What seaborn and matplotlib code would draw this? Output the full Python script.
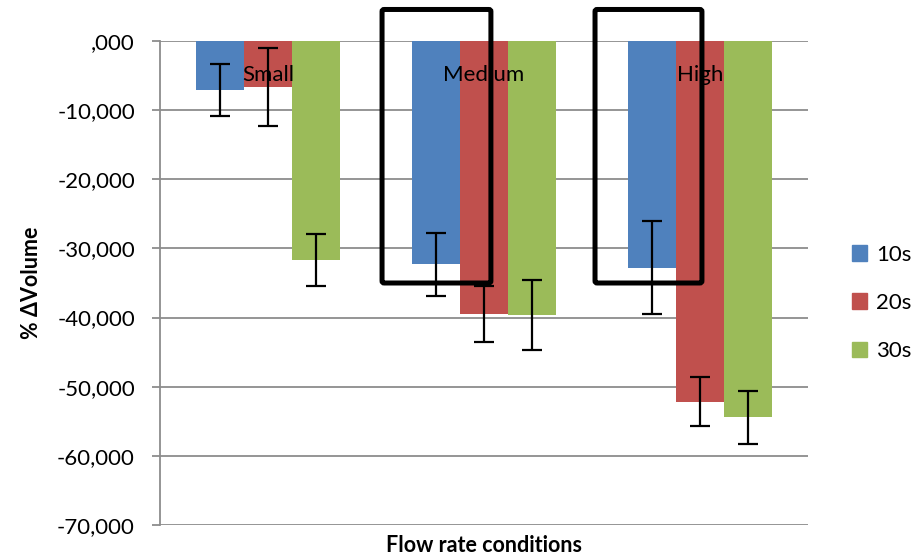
import matplotlib
matplotlib.use('Agg')
import matplotlib.pyplot as plt
from matplotlib.patches import FancyBboxPatch, Patch
from matplotlib.ticker import FuncFormatter, MultipleLocator
import seaborn as sns
import pandas as pd

# data
conditions = ['Small', 'Medium', 'High']
times = ['10s', '20s', '30s']
vol_10s = [-7100, -32300, -32800]
vol_20s = [-6650, -39500, -52200]
vol_30s = [-31700, -39600, -54400]
err_10s = [3750, 4600, 6700]
err_20s = [5650, 4000, 3550]
err_30s = [3750, 5100, 3850]
colors = ['#4F81BD', '#C0504D', '#9BBB59']

# highlighted regions (x from, x to) in category units
boxes = [(0.528, 1.032), (1.514, 2.009)]
box_y = (-35000, 4560)


def main():
    df = pd.DataFrame({
        'cond': conditions * 3,
        'time': [t for t in times for _ in conditions],
        'vol': vol_10s + vol_20s + vol_30s,
        'err': err_10s + err_20s + err_30s,
    })

    sns.set_style('white')
    plt.rcParams['font.family'] = ['Lato', 'DejaVu Sans']
    plt.rcParams['text.color'] = 'black'
    plt.rcParams['axes.labelcolor'] = 'black'
    plt.rcParams['ytick.color'] = 'black'
    fig = plt.figure(figsize=(9.24, 5.56), dpi=100)
    ax = fig.add_axes([160 / 924, 31 / 556, 648 / 924, 484 / 556])

    sns.barplot(data=df, x='cond', y='vol', hue='time', order=conditions,
                hue_order=times, palette=colors, width=0.667, saturation=1,
                errorbar=None, legend=False, linewidth=0, ax=ax, zorder=2)

    # error bars at the bar centres that seaborn placed
    for cont, t in zip(ax.containers, times):
        sub = df[df['time'] == t].set_index('cond').loc[conditions]
        xs = [p.get_x() + p.get_width() / 2 for p in cont.patches]
        ax.errorbar(xs, sub['vol'], yerr=sub['err'], fmt='none', ecolor='black',
                    elinewidth=1.6, capsize=7, capthick=1.6, zorder=4)

    ax.set_ylim(-70000, 0)
    ax.set_xlim(-0.5, 2.5)
    ax.yaxis.set_major_locator(MultipleLocator(10000))
    ax.yaxis.set_major_formatter(FuncFormatter(
        lambda v, p: ',000' if v == 0 else f'{v:,.0f}'))
    ax.grid(axis='y', color='#8c8c8c', lw=1.3, zorder=0)
    ax.set_axisbelow(True)
    for s in ['top', 'right', 'bottom']:
        ax.spines[s].set_visible(False)
    ax.spines['left'].set_color('#8c8c8c')
    ax.spines['left'].set_linewidth(1.3)
    ax.tick_params(axis='y', left=True, length=6, width=1.3, color='#8c8c8c',
                   labelcolor='black', labelsize=16, pad=12)
    ax.tick_params(axis='x', bottom=False, labelbottom=False)

    # category names inside the plot
    for i, c in enumerate(conditions):
        ax.text(i, -4900, c, ha='center', va='center', fontsize=16, zorder=5)

    for x0, x1 in boxes:
        ax.add_patch(FancyBboxPatch((x0, box_y[0]), x1 - x0, box_y[1] - box_y[0],
                                    boxstyle='round,pad=0,rounding_size=0.01',
                                    mutation_aspect=30000, fill=False,
                                    ec='black', lw=3.6, clip_on=False, zorder=6))

    ax.set_xlabel('Flow rate conditions', fontsize=15.5, fontweight='bold')
    ax.xaxis.set_label_coords(0.5, -(545 - 525) / 484)
    ax.xaxis.label.set_va('center')
    ax.set_ylabel('% ΔVolume', fontsize=15.5, fontweight='bold')
    ax.yaxis.set_label_coords(-(160 - 32) / 648, 0.5)
    ax.yaxis.label.set_va('center')

    handles = [Patch(color=c, label=t) for c, t in zip(colors, times)]
    fig.legend(handles=handles, loc='center left', bbox_to_anchor=(0.900, 0.455),
               frameon=False, fontsize=16, handlelength=0.7, handleheight=0.7,
               handletextpad=0.4, labelspacing=1.27)

    fig.savefig('out.png', dpi=100)


if __name__ == '__main__':
    main()
